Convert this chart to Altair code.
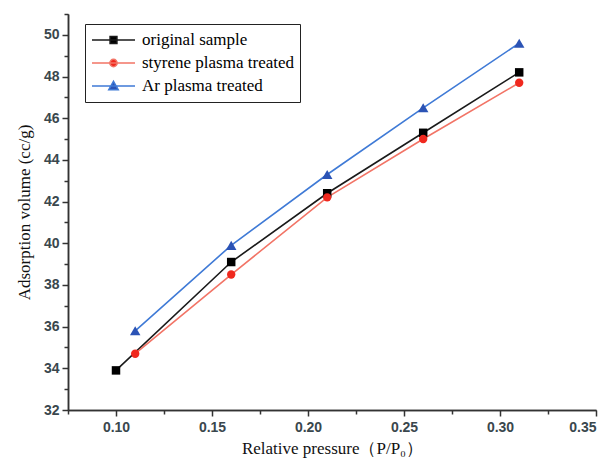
import altair as alt
import pandas as pd

series = ["original sample", "styrene plasma treated", "Ar plasma treated"]
x_orig = [0.10, 0.16, 0.21, 0.26, 0.31]
y_orig = [33.9, 39.1, 42.4, 45.3, 48.2]
x_sty = [0.11, 0.16, 0.21, 0.26, 0.31]
y_sty = [34.7, 38.5, 42.2, 45.0, 47.7]
x_ar = [0.11, 0.16, 0.21, 0.26, 0.31]
y_ar = [35.8, 39.9, 43.3, 46.5, 49.6]

x_major = [0.10, 0.15, 0.20, 0.25, 0.30, 0.35]
x_minor = [0.075, 0.125, 0.175, 0.225, 0.275, 0.325]
y_major = [32, 34, 36, 38, 40, 42, 44, 46, 48, 50]
y_minor = [33, 35, 37, 39, 41, 43, 45, 47, 49, 51]

line_colors = ["#1a1a1a", "#f27466", "#3f7ad6"]
marker_colors = ["#000000", "#f0281e", "#2b53b5"]
marker_shapes = ["square", "circle", "triangle-up"]
marker_sizes = [72, 70, 110]
legend_paths = [
    "M-1,0L1,0M-0.16,-0.16L0.16,-0.16L0.16,0.16L-0.16,0.16Z",
    "M-1,0L1,0M-0.17,0A0.17,0.17,0,1,1,0.17,0A0.17,0.17,0,1,1,-0.17,0Z",
    "M-1,0L1,0M0,-0.22L0.22,0.17L-0.22,0.17Z",
]

rows = []
for name, xs, ys in zip(series, [x_orig, x_sty, x_ar], [y_orig, y_sty, y_ar]):
    for xv, yv in zip(xs, ys):
        rows.append({"series": name, "p": xv, "v": yv})
df = pd.DataFrame(rows)

xscale = alt.Scale(domain=[0.075, 0.35], nice=False, zero=False)
yscale = alt.Scale(domain=[32, 51], nice=False, zero=False)

base = alt.Chart(df)

layers = []
for i, name in enumerate(series):
    if i == 0:
        xenc = alt.X("p:Q", scale=xscale, axis=alt.Axis(
            values=x_major, format=".2f", title="Relative pressure（P/P₀）",
            grid=False, titlePadding=6, labelPadding=4))
        yenc = alt.Y("v:Q", scale=yscale, axis=alt.Axis(
            values=y_major, format="d", title="Adsorption volume (cc/g)",
            grid=False, titlePadding=10, labelPadding=3))
    else:
        xenc = alt.X("p:Q", scale=xscale, axis=None)
        yenc = alt.Y("v:Q", scale=yscale, axis=None)
    layers.append(
        base.transform_filter(alt.datum.series == name)
        .mark_line(strokeWidth=1.6)
        .encode(x=xenc, y=yenc, stroke=alt.value(line_colors[i]))
    )
for i, name in enumerate(series):
    layers.append(
        base.transform_filter(alt.datum.series == name)
        .mark_point(filled=True, shape=marker_shapes[i], size=marker_sizes[i], opacity=1)
        .encode(
            x=alt.X("p:Q", scale=xscale, axis=None),
            y=alt.Y("v:Q", scale=yscale, axis=None),
            fill=alt.value(marker_colors[i]),
        )
    )

# minor ticks
minor = base.mark_point(opacity=0).encode(
    x=alt.X("p:Q", scale=xscale, axis=alt.Axis(
        values=x_minor, labels=False, title=None, grid=False, tickSize=4, orient="bottom")),
    y=alt.Y("v:Q", scale=yscale, axis=alt.Axis(
        values=y_minor, labels=False, title=None, grid=False, tickSize=4, orient="left")),
)

legend_layer = base.transform_filter("false").mark_point(
    filled=True, size=1849, strokeWidth=1.5, opacity=1
).encode(
    x=alt.X("p:Q", scale=xscale, axis=None),
    y=alt.Y("v:Q", scale=yscale, axis=None),
    fill=alt.Fill("series:N", scale=alt.Scale(domain=series, range=marker_colors),
                  legend=alt.Legend(
                      title=None, orient="none", legendX=17, legendY=10,
                      strokeColor="#222", fillColor="white", padding=6,
                      labelFont="Liberation Serif", labelFontSize=17, labelColor="#000",
                      symbolSize=1849, symbolStrokeWidth=1.5, clipHeight=20,
                      rowPadding=3, labelOffset=6, labelLimit=300)),
    stroke=alt.Stroke("series:N", scale=alt.Scale(domain=series, range=line_colors)),
    shape=alt.Shape("series:N", scale=alt.Scale(domain=series, range=legend_paths)),
)

chart = alt.layer(*layers, minor, legend_layer).resolve_axis(
    x="independent", y="independent"
).properties(
    width=528, height=396,
    autosize=alt.AutoSizeParams(type="none"),
    padding={"left": 68, "top": 14, "right": 17, "bottom": 58},
    background="white",
).configure_view(stroke=None).configure_axis(
    domainColor="#333", domainWidth=1.5, tickColor="#333", tickWidth=1.5, tickSize=6,
    labelFont="Liberation Sans", labelFontSize=14, labelColor="#3a474d", labelFontWeight="bold",
    titleFont="Liberation Serif", titleFontSize=17, titleFontWeight="normal", titleColor="#111",
)

chart.save("out.html", embed_options={"renderer": "svg", "actions": False})
